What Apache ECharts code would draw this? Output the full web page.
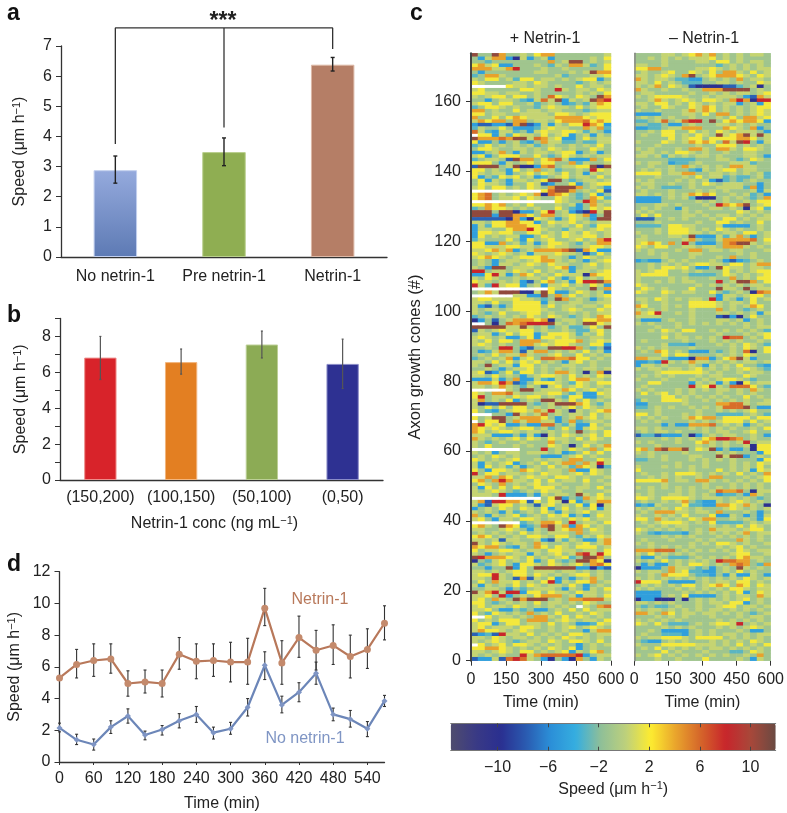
<!DOCTYPE html>
<html><head><meta charset="utf-8">
<style>html,body{margin:0;padding:0;background:#fff}#c{width:787px;height:813px}</style>
<script src="https://cdn.jsdelivr.net/npm/echarts@6/dist/echarts.min.js"></script>
</head><body><div id="c"></div>
<script>
// Panel a
const aCats = ['No netrin-1','Pre netrin-1','Netrin-1'];
const aVals = [2.88,3.48,6.38];
const aLow  = [2.45,3.03,6.17];
const aHigh = [3.35,3.95,6.62];
// Panel b
const bCats = ['(150,200)','(100,150)','(50,100)','(0,50)'];
const bVals = [6.82,6.57,7.55,6.47];
const bLow  = [5.6,5.9,6.8,5.1];
const bHigh = [8.0,7.3,8.3,7.85];
// Panel d
const dTimes = ['0','30','60','90','120','150','180','210','240','270','300','330','360','390','420','450','480','510','540','570'];
const dNet   = [5.3,6.15,6.4,6.5,4.95,5.05,4.95,6.8,6.35,6.4,6.3,6.3,9.7,6.25,7.85,7.05,7.35,6.65,7.1,8.75];
const dNetLo = [5.2,5.3,5.4,5.6,4.15,4.35,4.1,5.85,5.25,5.4,5.05,4.9,8.6,4.9,6.6,5.8,6.15,5.3,5.9,7.7];
const dNetHi = [5.4,7.1,7.45,7.45,5.75,5.8,5.8,7.85,7.45,7.45,7.55,7.8,10.95,7.65,9.2,8.3,8.65,8.0,8.4,9.85];
const dNo    = [2.15,1.4,1.1,2.2,2.9,1.7,2.05,2.6,3.0,1.85,2.1,3.45,6.1,3.6,4.4,5.6,3.0,2.7,2.1,3.85];
const dNoLo  = [1.9,1.1,0.75,1.8,2.45,1.4,1.7,2.15,2.5,1.45,1.75,2.9,5.2,3.1,3.8,4.9,2.6,2.2,1.6,3.5];
const dNoHi  = [2.45,1.75,1.45,2.6,3.35,1.95,2.3,3.05,3.5,2.2,2.5,4.0,6.95,4.15,5.0,6.3,3.4,3.25,2.55,4.2];
// Panel c: speed level per 30-min cell, read by eye, top row first
const levels = {'N':-10,'B':-7.5,'b':-4.8,'c':-3,'.':-1.1,'g':0.4,'y':1.8,'o':4.2,'p':5.8,'r':8,'m':10.8};
const plusRows = [
"m..mo..g.yoo.......g",".bgoobNgb.gb.....g.y","..c........o.gmm.g.g","yogybb...g.cg.oogc.y","oooggor...g..g.....y",".b.......gg...g.gmoo","c.oog.......gc...ggy","g.yy.gcyy.gg.g.gyyb.","yg....gg.yg....c.g.g","_____ygg.gg.g..y.gg.",
"gy.....yyg..rg.gg.yg","yygg.gg..g.....g.g.y","g.gyy.yy.g.pyg.yg.mo","..b.gg.cbgpgmbg.gmpr","gyy.yy..gc.g.bc.cgoy","c.yyg.g..cgygg.y.gyy","oo.g..y.gg.gg...c.gg","yy.gg..gggg.yyg.gyyy","o..y.yoyggggooooygyy","goyoo.oo.gg.yooopyoy",
"bBBbbBomBbgbg.yyroyb","cg..y.bbbcgygg..ogoc","pgcbggc.bgyggyygcg.b","_yybgcygg.y.gyb.gbg.","mooopommgpogybb.y.gg","ybb.b.gcb.oggcc.ccgg","c.y.g.g.gc.g..g.g.y.",".yyg..gg.g.yg.g..yg.","bb.go.bg.gg.gyyb.gb.","gyb.yyy..y.c.yg.g.gg",
"c.gg.Bmoo.yopgbbbo.y","yyy.bg.gy.yy..ocg..g","Bmmm.gmNNbop.ggyymNm","yy.g.by.go.gc..g.ryg","yg.ggb.gy.yg.y.gbg.g","yb.cygy.gbc.gy.gg.y.",".ybg.bgg.gymm.c.gg.g",".ygg.b..ygBb..yb.gyy","gy.yy.g.yg.ommmo.g.b","__________ypmmo.g.yB",
"yop.g.gygoNpoy.c.yb.","yop.ggy.yg..yg.c.oyc","____________yg..ro.g","yyoyo.g.y...g.gb.og.","c.oyyg.g.g..y.cb.ygy","mmm.mmNbb.yr.gbBNrgm","mmmbmmooy.oo.gygob.m","BBBBBNobNyg.b.yg.bmm","gg.yyooyyb.yggy.g.gg","bgcyyoooyy.g.g.y.cyy",
"bgg..yooryg..cgg.gyg","byygyy..yy.g.yg.yg.g","by.g.ggbb.yg.yggyy.g","cg...y.by.gy..gy.gor","yybbo.gcgb.yyg.cg.oo","yygggyygg.gygg..gyyg","ggyogob.goooopmBoybb","yg.gyg.gbgggygg.Bcy.",
"gyoyg.gyyyogg.b.yg.g",".g.b.gg.gyoog.g.b.gy",".g.bgg.gyg.ygg..gy.g","g.bmm.ggg..gyob.gg.g","rr.gg.yg.y.g.gbgg.gy","bbyrgb.oy.g.ygggNoyy","g.yg..g.gg.y.b.y.g.y","ygg.g.gbB.yo.gbyrrmo","rgcrgyyb.gbggy.g.ygb","___________yg.g..m.o",
".gogmmmNNgmybb.yg.gb","______ggbbm.o.y.g.gy","gyygggygg.c.mo.g.b.g","gg.y..yyyybg..gg..gg","gbB.b.yyyy.y.gg.gg.y","g.gg.gyyyyg..gyg..yg","g.c.y..gyy.g..g.g.gg","c.g.g.g.yg.yg.c.g.oy","Nb.B.goooyoN.gg.yyoo","__.N.poprrrmg.g.mmyg",
"mmmmmggmg.gc.gcc.y.m","Bg.gyggyy.g..g.ccgy.",".ggb.y.yyb.yyygcg.y.","gyg.gbb.ybyygyg..gg.","g.y.yy.ooo.gyyyo.gyg","gyg.g..oogygyyg..yyb","..g.rr.bB..mmrro.c.B",".bcgoo.Bgoo.g.g.y.gb",".g.y.ggog..gy..y.g.g","c.g.gobgy.ppoopyy.g.",
"gg.y.y.ygy.g.bgy.g..","g.m.ggbyy.g..gg..g..","..g.b.ggy.g.g.g.gg.g","gyBb.ycyy.g.oog.N.oN","gg.y.g.b.gyyg.y.g.yg","bbbgb.obbgcbg.yoogg.","gooyroBb.yyyg.cyg.yy","gg.gog.cg.Bgy.gyg.g.","_____g.mm.gggoy.gy.g","yg.oopg..ggyy.cgbbyg",
"yr.gg.ygyy.g.cyybb.g","go.g.yb.g.mmg.y.y.g.","gNBBmmmm.c.gmmmoy.cg","g.y.y.yy.g.g.gy.yg.g","y.cb.gyygogrg.Ng.gyo","___..bmg.gp.g.gg.y.g","y.gmm.goooy.b.gogy.g","_.yym.ogooggb.oc.gg.","orygybb.bbpp.cgbby.g","oygyg.gyy.gc.y.bgyg.",
"oy.gyyg.gg.g.g.m.g.y","gggbbb.bgbNg.yg.gy.y","og.g.gy.yg.ygg.y.yg.","g.c.g..g...o.g..gg..","g.y...g.g..yg.N.y.go","_______...r.g.yg.o.y","g.gb.gg.ggg.gbc.y.y.",".g.yg.g...bbb.gy.g..","yg.g.gy..g.gg.oo..yg",
"gbg.gyb.g.y.goo.ogrg","gby.gcgb.g.y.gcoygNc","y.byyg.oyg.gg.obbyg.","r.yy.gg.g.ygg.gy.yg.","ggo.oy.gygg.yyg.g..g","yo.orogg.y.y.gg.y.g.",".yg.o.g.gy.gg...g..g","gby.y.yg.yyy.g.gg.y.","g.gyg.c.g.ygg..g...g","ggg.rbbb.bg.gg.mg.y.",
"__________.ymb.cogyg","goBrrooyBy.ygNyb.goo","gbBgyy.g.Bgy.g.ybyNg","b.g.yg.yg.yb.y.g.ybg","g.g.bgc.g.y.bg.gy.gg","o.bg.gyc.g.ygyb.b.yg","gy.bgg.yyg.gg.ygy.gg","_______c.gooy.r.gg.y","yog.moybc.pmgoboy.g.","gg..gyg.bg.mgyoo.yg.",
".g.g.g.y.g.ggg.o.gg.","yoy.g.g.yyg.yy.cg.yg","gg.gBgg..gbBgcg.bbgo","mg.yg.gg.og..g.gy.go","oyoo.cbg.oy.yg.yyy.g","y.ggyyg.gg.yygg.gg.y","g.b.g.ggbg.gy.gprgry","mroooyg.y.g.gyc.mmo.","N.cgy.g.yb.y.c.mmoyN","gc.gy.byyg.yg.gy.opy",
"..b..mby.mmmmmmbbNbB","gg.g.gyy.ggg.gg.g.g.","gyyrg.yy.yg.g.gyy.g.","gg.rg.BoBg.yb.b.gog.",".y.oggy.g.yrbg.yyo.g","gbg.g.y.yg.gg.y.b.g.","..gg.b.c.ggg.bg.bg.y","mgorgrrbyy.ygg.ygg.g","ggy.rb.g.yooo.gbgg.y","gy.og.mommm.g.oopppg",
"yy.c.g.g.y.gg.g.yg..","gy.gg.yg.g.g.g._g.op","ggy.bb.c.bb.g.y.y.gg","y.cyg.g.o.g.y..g.yg.","__y.gg.g.oog.y.yg.g.","y.g.yyy.ooo.gyg.gg.y","gyyb.yy.gg.y.g.bbcyg","gy.ggg.yyg.g.gy.gyg.","goyyg.gyg..g.g..bgoo","BbcBrgg.y.g.g.yyg.gg",
"gg.yg.gg.g.g.yg.g.g.","g.gyg.c.gg.yg.yyg.y.","_y.gy.yyg.g.g..b.g.g","yyooyg.g.g.yg.yb.g..","gg.gyg.yy.g.gybg.yo.","g.g.g..rgoppppprb.gg","BbbgBprpg.bN.bNo.bg."
];
const minusRows = [
"....gg.gyogo.g.g.gg.","..g.g.g.gggy.g.g....","....g....gg.yy.g.gg.","gg..g.......c.g.g.g.","yyoo.....ggyg.g.g.gg",".g..gy..yg.y.oog.y.g","gg.gyg.om.gyoooyg.yg","og.gg.ccbb.g.g.o.gg.","gg.y.g.ccc..gg.g..yg","g.go.yg.BNNNNBBc.gN.",
"og..g..g..ooommmm.g.",".gg.....g..g.g.gg.gy","g.gyyyyg..g.ggg.bBog","..gog.gyg.yyg.oroNrr","gg.yy.g.yg.g.ggb.gby",".g..yg..ygoy.g.g.gyy","g..g...gogoy.g.g.gyg","bbbb...gg.y.oo.g.gyg",".g.g.g..g...g.y.oogy","cc.gp.gprr.m.yoyooyb",
"..cc.bb.g...gg.g.g..","bbcc.ggooo...oyg.ob.","..g.yy..y.g.yg.ggg.b",".g..yy.g.yg.mgyomgmg",".....y.gyy.yyyyooy.g","g...yg.goyoy.pgmr.bg","...g.....g..yyy.g.g.","g.g...g.oog.oog.yyg.",".gg.g.yyg.g..g..gg..","gg.gcg.g.gg.g...gg.b",
".....cccc...gg.c.yg.","g.gg.bcc.g....gggc..","..g..g.og.g.g.oogg..",".g.g.g..cbg.gyy.gg..","yyyy.ggoo..gg.g.g.gc","...g...g.y.ggc.cc.gc","g.g...g.g.gbBc.c.g..",".gg..g..g.yg.ggg..b.","g.g.ccc.g...ggggcob.",".g...g...g.g.g...gbg",
"gg.g.g.goyoy..g.gc.b","bbbb.g.gcNNN.g.g.c.o","bbbb.....g.g.g..g.yy","...gg.g...g.royom.gy",".g.g..bg...gg.g.Ngyc","g.g....g.g.....yg.g.",".y.y...gg.g.gg.g.g.g","BBB..g.g...g.yy.g.gg","...g.....g..yy.g..y.","cccc.yygg...gbbbb.g.",
"...g.yyyg.g.yg.g..g.","g..g.yyygg.g.gg.yy.g",".g...gg.mbbbgcgo.b.g","gg.....go.ccgoooop.y","gyoy.o.r.bbb.opmmg.g","yg.yy..gg.gg.ooog.g.","g.g...g.oo.gg.gg...g","..g.g...gg.....g.g..",
"....g...g...g.o..g..","bcbb.g.g...g.bBbc.g.","..g.g.g.gyygg.yy.goo","..g.yygy.bb.mygg.gg.","g.gyy..g.g...y.g.gyy","gyyyy...cccc.yg.g.gy","g....g.g...g..o.g.yy","g..g.g.gg...r.gmmo.y","yg.......g.g.g.g.gg.",".yg.g...y...mgg.m.gg",
"yg..yg.gg..y.c.g.Npo","....g.......bgg.gyy.","gg.yg.g.gg.rbg.b.y.g",".g..g...yyyyg.gg.y..","oy..g.g.yyyyg.g.goy.","g.g.g...g...o.g.c.g.","ogyr..g.g...gg.g.gbg","gggg....g...BNbN.y..",".bbb.g..g...gg.gb.g.","g.g...g.g.g.g.g.g.g.",
"...g..g.........g.gg","..g.yg.yy..g.g.g.g.c","....g.g.....g...g.gy","....y.gg.g.g.rpp.g.y",".g.....g...g.g.g..g.","....gcccb...g.g.yg.c","g.g.g...g.....g.yg.y",".g.oy.g.bbb.c.g.pN.y","....y.yy....g.g.yg..","oogg.bbbNoob.yomgb..",
"bbcbrg.gogg.g.g.gg.g","bgg.g...g.bg.g.y..cb","g.gg.gg.gy.g.g.gyg.c","...gyyyyyyg.g..g.gg.",".g.g.g...g.gg...yg..","g...g...g.g.gyyg.c..","..yy....bg.gbgbNy.gg",".g......rgyrg.pppy.c","g.g...g.g.g.gg.g.og.",".y.gy.g.g...g..g.g..",
"....yy.g.g.g.g..y.g.","cg..yyyg..g.g.g.g..g","bb.....g....ooppg.gg","cc.g.g..g.g.gpppm.bb","...g.....g..g.g.gy..","yy.g...g.g..cccc.g.c","g.g.g..goyoo.yyyy.yy",".g.g....g.g.gyyy.y.g","....b.bbooop.g.gb.g.","gg.g....g.g.g.g..g.y",
".g.gg.g...g.gg..gy..","BccBbbb.Nb.g.gg..g.b","....g.g.g.yorrpo.g..","g.g...g..yog.g.gr.gg","...g.....g.g.g..gNyy","yo.pmoom.ygmb.bb.Nyy","g.g....g....g.g...by","..g.g...gg..mgmmb.g.","cc..g...g.g.g.g...by",
"......g...g...g.g.yg","g...g.g.g.g...g.g.y.","y.......g...y.g.gbyg",".g..g.yyyg.g.g.y.g.o","..g.g.g..g.oo...g.gy","yyyyo.gg.oog.g.g.g.y","....g.....g...g.g.g.","g.g.g.g.g.g.g.g.g.g.","..g...g.g..gpoop.Ngg","g.g..gg.g.g.bcc.bog.",
"yyg.yyyyg.ggg.g.g.c.",".g..g.go.cbbg.gyg.g.","bcbg...yccbbooygog.No","g.g.g.yg.g...gyg.g.g",".g.ooogg.gg.o...g.b.","g..g.g.y...ybbg.b.bg","yy.og.g.ygoo..g.g.by",".g.gyyyg.g.ycccc.g.g","..g.g.gg...g.g.y.yg.","yg.g.g.g.g.oggg.gyy.",
"g.cbcccb.g.g.g.go.gg","....g.g.g...g.g.g.g.",".g...g...g.g...og.g.","g.g.....g.g.yyg.g..g","..g.g.g.g...g.gy.g..","oooppp.g.g.g.g.yg.gg","g.y.g.g.g.....gyy..g",".bbg.ccc.g.g.g.yogg.","g.g.y.g.g.g.rppoo.g.",".b.bb.g.yyg.g.opo.co",
"Nbbb.ogg.c.b.g.mg.g.","g.gg.ogyccbb.g.y.g..","..g.oyyy.ccb.bgbbg.b","g.g.g.g.g.g.g.g.yg.g","ryyy.bbbb.g.gg.yy.g.",".g.g.g.yy.gyoy.oy.yg","g.g...g.g.g.g.yyg.gg","bbbb...g.g.g.g.yb.yg","bbbb.g.ybbbb.g.gg.og","NbbNNN.N.g.g.g.gy.g.",
"gg.g.g...g.gg.yyb.g.",".c.cc.g..g..gyy.gg.g","g.gg.g.g.g.gg.g.g.g.","oog.oy.gg.gg.g.g.c.g","...g.g.g...g...g.gg.","g.g.g.g.....g.g.g.g.","yg.y.ccc.g.gyygr.g.g","....g.g.g...g.g.gyg.","..g.bbbb.g.g...g.bb.",".g..cccb.g.g.gg.g.gg",
"g.ggyyyg.yyyy.g.g.g.",".cbb.g.g...g.g.g.yg.","g...yyyyyggg.g.y.g.y",".g.y.g.g.g.gg.g.g.g.","....y.g...g...cc.yg.","g.gy.g.g.g.g.g..g.o.","...g..g...y....g.bg."
];
const colorStops = ['#4f4c6e','#3a3a85','#2a2f90','#2a5ab0','#2b8fd8','#35aee0','#8fbf98','#bdd07c','#fdec30','#e9a42c','#d5652a','#c8252b','#a8483a','#6a4a42'];
const heatTimes = Array.from({length:20},(_, i)=>String(i));
const rowIds = Array.from({length:174},(_, i)=>String(i));
const cbTicks = [-10,-6,-2,2,6,10];
const rowTicks = [0,20,40,60,80,100,120,140,160];

const FONT='"Liberation Sans",Arial,sans-serif', INK='#222', AX='#333', FS=16;
function decode(rows){
  const out=[];
  rows.forEach((r,i)=>{
    const row=r.padEnd(20,'.').slice(0,20);
    for(let x=0;x<20;x++){ if(row[x]!=='_') out.push([x,173-i,levels[row[x]]]); }
  });
  return out;
}
function errSeries(xi,yi,xs,lo,hi,color,cap,lw){
  return {type:'custom',xAxisIndex:xi,yAxisIndex:yi,silent:true,z:3,clip:false,
    data:xs.map((x,i)=>[i,lo[i],hi[i]]),encode:{x:0,y:[1,2]},
    renderItem(p,api){
      const a=api.coord([api.value(0),api.value(1)]),b=api.coord([api.value(0),api.value(2)]);
      const st={stroke:color,lineWidth:lw,fill:null};
      return {type:'group',children:[
        {type:'line',shape:{x1:a[0],y1:a[1],x2:b[0],y2:b[1]},style:st},
        {type:'line',shape:{x1:a[0]-cap,y1:a[1],x2:a[0]+cap,y2:a[1]},style:st},
        {type:'line',shape:{x1:b[0]-cap,y1:b[1],x2:b[0]+cap,y2:b[1]},style:st}]};
    }};
}
function grad(t,b){return {type:'linear',x:0,y:0,x2:0,y2:1,colorStops:[{offset:0,color:t},{offset:1,color:b}]};}
const sup={sup:{fontSize:11,fontFamily:FONT,color:INK,padding:[0,0,6,0]}};
const speedName='Speed (μm h{sup|−1})';
function catX(grid,data,extra){return Object.assign({type:'category',gridIndex:grid,data,axisLine:{lineStyle:{color:AX,width:1.3}},axisTick:{lineStyle:{color:AX},length:5,alignWithLabel:false},axisLabel:{color:INK,fontSize:FS,fontFamily:FONT,margin:12,interval:0}},extra||{});}
function valY(grid,max,interval,extra){return Object.assign({type:'value',gridIndex:grid,min:0,max,interval,splitLine:{show:false},axisLine:{show:true,lineStyle:{color:AX,width:1.3}},axisTick:{show:true,lineStyle:{color:AX},length:5},axisLabel:{color:INK,fontSize:FS,fontFamily:FONT,margin:9},nameLocation:'middle',nameRotate:90,nameTextStyle:{color:INK,fontSize:FS,fontFamily:FONT,rich:sup}},extra||{});}
const timeName={name:'Time (min)',nameLocation:'middle',nameGap:34,nameTextStyle:{color:INK,fontSize:FS,fontFamily:FONT}};
function heatXVal(grid){return Object.assign({type:'value',gridIndex:grid,min:0,max:600,interval:150,position:'bottom',splitLine:{show:false},axisLine:{show:false},axisTick:{show:true,lineStyle:{color:AX},length:5},axisLabel:{color:INK,fontSize:FS,fontFamily:FONT,margin:11,hideOverlap:false}},timeName);}

const option={
  animation:false,
  textStyle:{fontFamily:FONT},
  grid:[
    {left:61,top:46,width:326,height:211},
    {left:60,top:318.5,width:323,height:161.5},
    {left:59.5,top:571.7,width:325,height:193.3},
    {left:471,top:53.3,width:140,height:607.4},
    {left:634.3,top:53.3,width:140.4,height:607.4},
    {left:450.7,top:723.3,width:325,height:27.4}
  ],
  xAxis:[
    catX(0,aCats),
    catX(1,bCats,{axisLabel:{color:INK,fontSize:FS,fontFamily:FONT,margin:10,interval:0},
      name:'Netrin-1 conc (ng mL{sup|−1})',nameLocation:'middle',nameGap:35,nameTextStyle:{color:INK,fontSize:FS,fontFamily:FONT,rich:sup,padding:[0,14,0,0]}}),
    catX(2,dTimes,{boundaryGap:false,axisTick:{show:true,interval:1,length:3,lineStyle:{color:AX}},axisLabel:{color:INK,fontSize:FS,fontFamily:FONT,margin:9,interval:1},
      name:'Time (min)',nameLocation:'middle',nameGap:34,nameTextStyle:{color:INK,fontSize:FS,fontFamily:FONT}}),
    {type:'category',gridIndex:3,data:heatTimes,show:false},
    heatXVal(3),
    {type:'category',gridIndex:4,data:heatTimes,show:false},
    heatXVal(4),
    {type:'value',gridIndex:5,min:-13.7,max:12,position:'bottom',z:6,splitLine:{show:false},
      axisLine:{show:true,lineStyle:{color:'#777',width:1}},
      axisTick:{show:true,inside:true,length:4,lineStyle:{color:'#444'},customValues:cbTicks},
      axisLabel:{show:true,color:INK,fontSize:FS,fontFamily:FONT,margin:9,customValues:cbTicks,formatter:v=>String(v).replace('-','−')},
      name:'Speed (μm h{sup|−1})',nameLocation:'middle',nameGap:30,nameTextStyle:{color:INK,fontSize:FS,fontFamily:FONT,rich:sup}},
    {type:'value',gridIndex:5,min:-13.7,max:12,position:'top',z:6,splitLine:{show:false},
      axisLine:{show:true,lineStyle:{color:'#777',width:1}},
      axisTick:{show:true,inside:true,length:4,lineStyle:{color:'#444'},customValues:cbTicks},
      axisLabel:{show:false}}
  ],
  yAxis:[
    valY(0,7,1,{name:speedName,nameGap:33}),
    valY(1,9,1,{name:speedName,nameGap:31,axisLabel:{color:INK,fontSize:FS,fontFamily:FONT,margin:9,formatter:v=>v%2===0?String(v):''}}),
    valY(2,12,2,{name:speedName,nameGap:36}),
    {type:'category',gridIndex:3,data:rowIds,show:false},
    {type:'value',gridIndex:3,min:0,max:173.8,position:'left',z:6,splitLine:{show:false},
      axisLine:{show:true,lineStyle:{color:'#444',width:2}},
      axisTick:{show:true,length:5,lineStyle:{color:AX},customValues:rowTicks},
      axisLabel:{color:INK,fontSize:FS,fontFamily:FONT,margin:10,customValues:rowTicks},
      name:'Axon growth cones (#)',nameLocation:'middle',nameRotate:90,nameGap:47,nameTextStyle:{color:INK,fontSize:16.5,fontFamily:FONT}},
    {type:'category',gridIndex:4,data:rowIds,show:false},
    {type:'value',gridIndex:4,min:0,max:173.8,position:'left',z:6,splitLine:{show:false},
      axisLine:{show:true,lineStyle:{color:'#888',width:1.5}},axisTick:{show:false},axisLabel:{show:false}},
    {type:'value',gridIndex:5,min:0,max:1,show:false}
  ],
  visualMap:[{type:'continuous',min:-13.7,max:12,seriesIndex:[8,9],inRange:{color:colorStops},orient:'horizontal',
    left:450.7,top:723.3,itemWidth:27.4,itemHeight:325,padding:0,text:null,showLabel:false,calculable:false,hoverLink:false,realtime:false,z:4}],
  series:[
    {type:'bar',xAxisIndex:0,yAxisIndex:0,barWidth:'40%',data:[
      {value:aVals[0],itemStyle:{color:grad('#95aadd','#5d7ab4'),borderColor:'#c2cfee',borderWidth:1}},
      {value:aVals[1],itemStyle:{color:'#8fae52',borderColor:'#b9cf8d',borderWidth:1}},
      {value:aVals[2],itemStyle:{color:'#b57e66',borderColor:'#dcb8a6',borderWidth:1}}]},
    errSeries(0,0,aCats,aLow,aHigh,'#222',2,1.4),
    {type:'line',xAxisIndex:0,yAxisIndex:0,clip:false,symbol:'none',silent:true,lineStyle:{color:'#333',width:1.3},data:[[0,3.75],[0,7.6],[2,7.6],[2,6.9]]},
    {type:'line',xAxisIndex:0,yAxisIndex:0,clip:false,symbol:'none',silent:true,lineStyle:{color:'#333',width:1.3},data:[[1,4.3],[1,7.6]]},
    {type:'bar',xAxisIndex:1,yAxisIndex:1,barWidth:'40%',data:[
      {value:bVals[0],itemStyle:{color:'#d8232a',borderColor:'#ee8c8a',borderWidth:1}},
      {value:bVals[1],itemStyle:{color:'#e37f22',borderColor:'#f2b57e',borderWidth:1}},
      {value:bVals[2],itemStyle:{color:'#8cab55',borderColor:'#bccf96',borderWidth:1}},
      {value:bVals[3],itemStyle:{color:'#2e3192',borderColor:'#8a8cc8',borderWidth:1}}]},
    errSeries(1,1,bCats,bLow,bHigh,'#555',1,1.2),
    {type:'line',xAxisIndex:2,yAxisIndex:2,data:dNet,symbol:'circle',symbolSize:7,z:4,itemStyle:{color:'#c48a6c'},lineStyle:{color:'#b8785a',width:2.2}},
    {type:'line',xAxisIndex:2,yAxisIndex:2,data:dNo,symbol:'diamond',symbolSize:6,z:4,itemStyle:{color:'#7f95c4'},lineStyle:{color:'#6c86b8',width:2.2}},
    {type:'heatmap',xAxisIndex:3,yAxisIndex:3,data:decode(plusRows),progressive:0,silent:true,emphasis:{disabled:true}},
    {type:'heatmap',xAxisIndex:5,yAxisIndex:5,data:decode(minusRows),progressive:0,silent:true,emphasis:{disabled:true}},
    errSeries(2,2,dTimes,dNetLo,dNetHi,'#333',1.5,1.1),
    errSeries(2,2,dTimes,dNoLo,dNoHi,'#333',1.5,1.1)
  ],
  graphic:[
    {type:'text',left:7,top:2,style:{text:'a',font:'bold 23px '+FONT,fill:'#111'}},
    {type:'text',left:7,top:304,style:{text:'b',font:'bold 23px '+FONT,fill:'#111'}},
    {type:'text',left:410,top:2,style:{text:'c',font:'bold 23px '+FONT,fill:'#111'}},
    {type:'text',left:7,top:553,style:{text:'d',font:'bold 23px '+FONT,fill:'#111'}},
    {type:'text',x:223,y:10,style:{text:'***',font:'bold 23px '+FONT,fill:'#222',align:'center',verticalAlign:'top'}},
    {type:'text',x:545,y:39,style:{text:'+ Netrin-1',font:'16px '+FONT,fill:INK,align:'center',verticalAlign:'middle'}},
    {type:'text',x:704,y:39,style:{text:'– Netrin-1',font:'16px '+FONT,fill:INK,align:'center',verticalAlign:'middle'}},
    {type:'text',x:320,y:600,style:{text:'Netrin-1',font:'16px '+FONT,fill:'#b8785a',align:'center',verticalAlign:'middle'}},
    {type:'text',x:305,y:739,style:{text:'No netrin-1',font:'16px '+FONT,fill:'#7f95c4',align:'center',verticalAlign:'middle'}}
  ]
};
const chart=echarts.init(document.getElementById('c'),null,{renderer:'canvas'});
chart.setOption(option);
</script></body></html>
